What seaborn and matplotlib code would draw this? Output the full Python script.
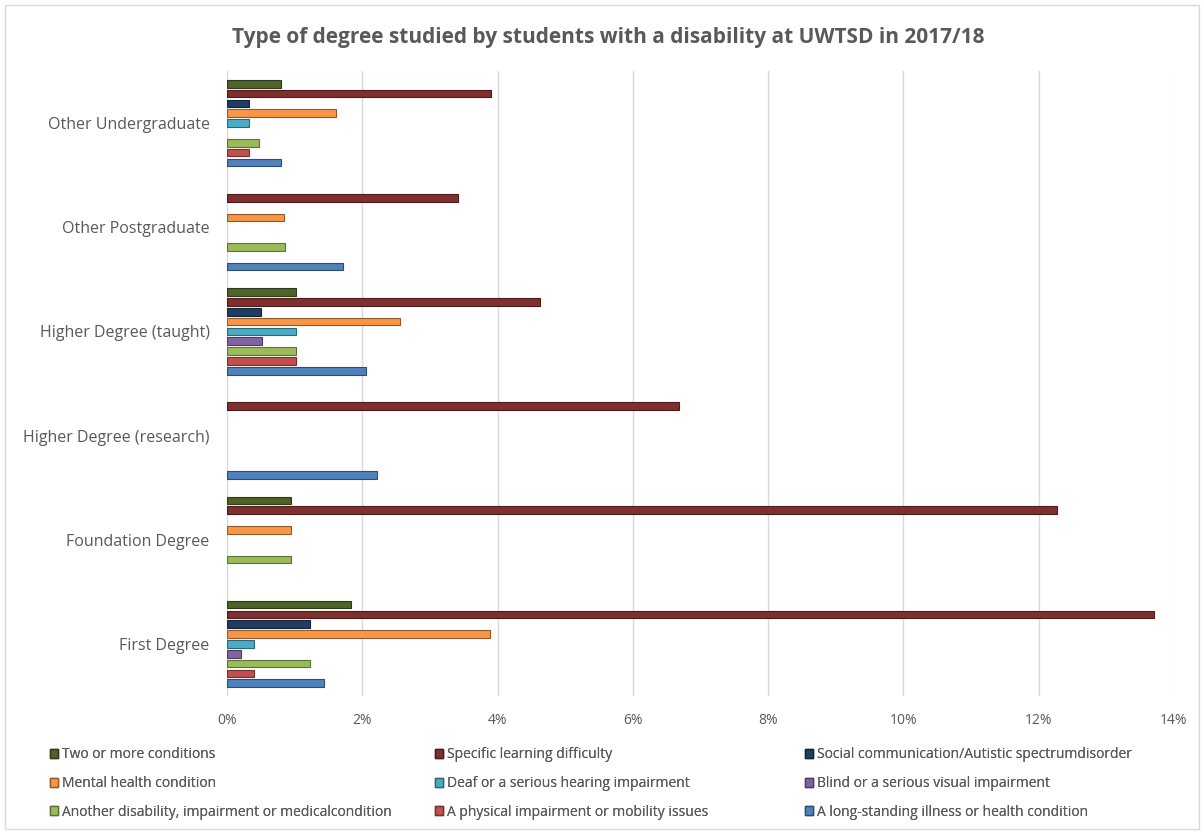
import matplotlib
matplotlib.use("Agg")
import matplotlib.pyplot as plt
import matplotlib.colors as mcolors
from matplotlib.patches import Rectangle, Patch
from matplotlib.ticker import FuncFormatter, MultipleLocator
import seaborn as sns
import pandas as pd

categories = ["Other Undergraduate", "Other Postgraduate", "Higher Degree (taught)",
              "Higher Degree (research)", "Foundation Degree", "First Degree"]

series = ["Two or more conditions", "Specific learning difficulty",
          "Social communication/Autistic spectrumdisorder", "Mental health condition",
          "Deaf or a serious hearing impairment", "Blind or a serious visual impairment",
          "Another disability, impairment or medicalcondition",
          "A physical impairment or mobility issues",
          "A long-standing illness or health condition"]

# values in percent, per series, in category order
two_or_more = [0.80, 0.00, 1.02, 0.00, 0.94, 1.84]
specific_learning = [3.91, 3.42, 4.62, 6.68, 12.27, 13.70]
social_autistic = [0.32, 0.00, 0.50, 0.00, 0.00, 1.23]
mental_health = [1.61, 0.85, 2.56, 0.00, 0.94, 3.89]
deaf_hearing = [0.32, 0.00, 1.02, 0.00, 0.00, 0.40]
blind_visual = [0.00, 0.00, 0.52, 0.00, 0.00, 0.20]
another_disability = [0.48, 0.86, 1.02, 0.00, 0.95, 1.23]
physical_mobility = [0.32, 0.00, 1.02, 0.00, 0.00, 0.40]
long_standing = [0.80, 1.71, 2.06, 2.22, 0.00, 1.43]

colors = ["#4F6228", "#7F2F2E", "#1F3D63", "#F79646", "#4BACC6",
          "#8064A2", "#9BBB59", "#C0504D", "#4F81BD"]

values = [two_or_more, specific_learning, social_autistic, mental_health,
          deaf_hearing, blind_visual, another_disability, physical_mobility,
          long_standing]

rows = []
for s, vals in zip(series, values):
    for c, v in zip(categories, vals):
        rows.append({"category": c, "series": s, "value": v})
df = pd.DataFrame(rows)

sns.set_theme(style="white")
plt.rcParams["font.family"] = ["Open Sans", "DejaVu Sans"]

fig = plt.figure(figsize=(12.04, 8.31), dpi=100)
ax = fig.add_axes([227 / 1204, 1 - 696 / 831, (1174 - 227) / 1204, (696 - 71) / 831])

palette = dict(zip(series, colors))
sns.barplot(data=df, x="value", y="category", hue="series", order=categories,
            hue_order=series, palette=palette, orient="h", width=0.85, gap=0.22,
            ax=ax, legend=False, saturation=1)

for bar in ax.patches:
    fc = bar.get_facecolor()
    dark = tuple(max(0, c * 0.6) for c in fc[:3])
    bar.set_edgecolor(dark)
    bar.set_linewidth(0.8 if bar.get_width() > 0 else 0)

ax.set_xlim(0, 14)
ax.set_ylim(5.5, -0.5)
ax.xaxis.set_major_locator(MultipleLocator(2))
ax.xaxis.set_major_formatter(FuncFormatter(lambda v, p: f"{int(round(v))}%"))
ax.grid(axis="x", color="#D9D9D9", linewidth=1)
ax.set_axisbelow(True)
for sp in ax.spines.values():
    sp.set_visible(False)
ax.tick_params(axis="both", length=0, colors="#595959", labelsize=11.5)
ax.tick_params(axis="x", pad=12, labelsize=10)
ax.tick_params(axis="y", pad=12.5)
ax.set_xlabel("")
ax.set_ylabel("")

fig.text(0.505, 1 - 37 / 831, "Type of degree studied by students with a disability at UWTSD in 2017/18",
         ha="center", va="center", fontsize=15, fontweight="bold", color="#595959")

# legend: three rows, three columns (row-major), one legend per column
handles = [Patch(facecolor=c, edgecolor=tuple(x * 0.6 for x in mcolors.to_rgb(c)), label=s)
           for s, c in zip(series, colors)]
col_x = [37, 422, 792]
for ci in range(3):
    idx = [ci, ci + 3, ci + 6]
    lg = fig.legend([handles[i] for i in idx], [series[i] for i in idx],
                    loc="upper left", bbox_to_anchor=(col_x[ci] / 1204, 1 - 735 / 831),
                    ncol=1, frameon=False, fontsize=10, handlelength=0.6,
                    handleheight=0.6, handletextpad=0.3, labelspacing=0.98,
                    labelcolor="#595959")
    fig.add_artist(lg)

fig.patches.append(Rectangle((5 / 1204, 0.002), 1 - 10 / 1204, 1 - 5 / 831 - 0.002,
                             transform=fig.transFigure, fill=False,
                             edgecolor="#D9D9D9", linewidth=1))

fig.savefig("out.png", dpi=100)
